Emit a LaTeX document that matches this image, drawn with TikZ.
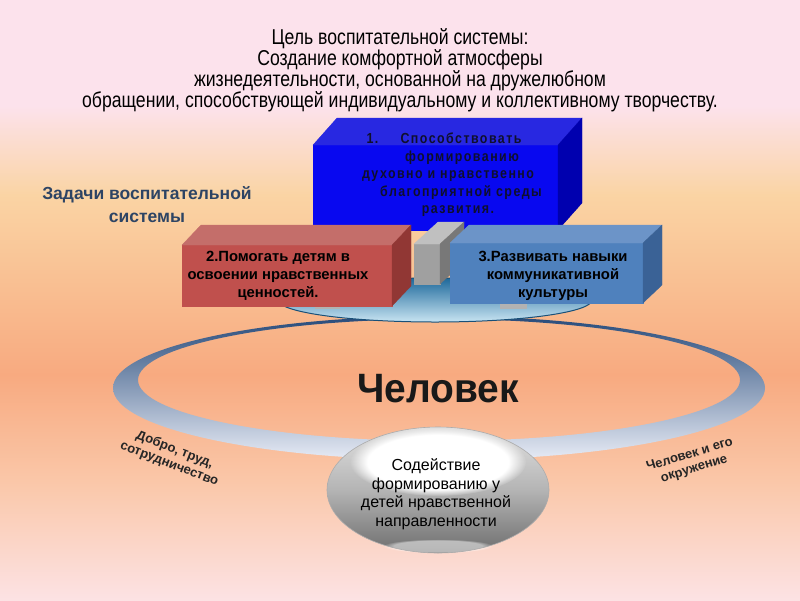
\documentclass[tikz,border=0pt]{standalone}
\usepackage{fontspec}
\setmainfont{Liberation Sans}
\newfontfamily\narrowfont[FakeStretch=0.82]{Liberation Sans}
\newfontfamily\semifont[FakeStretch=0.95]{Liberation Sans}
\newfontfamily\spacedfont[FakeStretch=0.85,LetterSpace=10]{Liberation Sans}
\usetikzlibrary{shapes.geometric,fadings}
\definecolor{bgpink}{RGB}{252,226,236}
\definecolor{bgpeach}{RGB}{250,212,164}
\definecolor{bgsalmon}{RGB}{248,170,128}
\definecolor{bglow}{RGB}{250,200,170}
\definecolor{bgbottom}{RGB}{252,226,228}
\definecolor{ringdark}{RGB}{40,75,122}
\definecolor{ringlight}{RGB}{232,236,246}
\definecolor{platdark}{RGB}{30,105,155}
\definecolor{platlight}{RGB}{200,228,242}
\definecolor{platedge}{RGB}{25,80,120}
\definecolor{bonefront}{RGB}{8,8,240}
\definecolor{bonetop}{RGB}{40,40,225}
\definecolor{boneside}{RGB}{0,0,175}
\definecolor{redfront}{RGB}{192,80,77}
\definecolor{redtop}{RGB}{196,110,106}
\definecolor{redside}{RGB}{145,55,52}
\definecolor{bthfront}{RGB}{79,129,189}
\definecolor{bthtop}{RGB}{108,148,200}
\definecolor{bthside}{RGB}{58,98,150}
\definecolor{grfront}{RGB}{160,160,160}
\definecolor{grtop}{RGB}{192,192,192}
\definecolor{grside}{RGB}{120,120,120}
\definecolor{tasktext}{RGB}{45,68,100}
\definecolor{navytext}{RGB}{15,15,45}
\definecolor{sphtop}{RGB}{225,225,225}
\definecolor{sphmid}{RGB}{180,180,180}
\definecolor{sphbot}{RGB}{110,110,110}
\newcommand{\mycuboid}[9]{%
  \fill[#7,draw=#7,line width=0.3pt] (#1,#2) rectangle (#3,#4);
  \fill[#8,draw=#8,line width=0.3pt] (#1,#2) -- ++(#5,-#6) -- (#3+#5,#2-#6) -- (#3,#2) -- cycle;
  \fill[#9,draw=#9,line width=0.3pt] (#3,#2) -- (#3+#5,#2-#6) -- (#3+#5,#4-#6) -- (#3,#4) -- cycle;
}
\begin{document}
\begin{tikzpicture}[x=1pt,y=-1pt,
  titletext/.style={font=\narrowfont\fontsize{21.5}{21}\selectfont, align=center, text=black},
  tasklabel/.style={font=\bfseries\fontsize{17.5}{23}\selectfont, align=center, text=tasktext},
  boxtext/.style={font=\bfseries\fontsize{14.8}{17.8}\selectfont, align=center, text=black},
  onetext/.style={font=\bfseries\spacedfont\fontsize{14.6}{17.5}\selectfont, text=navytext, anchor=base},
  sidetext/.style={font=\bfseries\fontsize{13}{15}\selectfont, align=center, text=black!85},
  spheretext/.style={font=\fontsize{16}{18.5}\selectfont, align=center, text=black}]
\useasboundingbox (0,0) rectangle (800,600);
% background
\fill[bgpink] (0,0) rectangle (800,106);
\shade[top color=bgpink, bottom color=bgpeach] (0,105.5) rectangle (800,195);
\shade[top color=bgpeach, bottom color=bgsalmon] (0,194.5) rectangle (800,375);
\shade[top color=bgsalmon, bottom color=bglow] (0,374.5) rectangle (800,485);
\shade[top color=bglow, bottom color=bgbottom] (0,484.5) rectangle (800,600);
% title
\node[titletext] (title) at (400,70) {Цель воспитательной системы:\\Создание комфортной  атмосферы\\жизнедеятельности, основанной на дружелюбном\\обращении, способствующей индивидуальному и коллективному творчеству.};
% tasks label
\node[tasklabel] (tasks) at (147,205) {Задачи воспитательной\\системы};
% ring
\shade[top color=ringdark, bottom color=ringlight, even odd rule]
  (439,388) ellipse [x radius=326pt, y radius=72pt]
  (439,380) ellipse [x radius=301pt, y radius=61pt];
% platform
\shade[top color=platdark, bottom color=platlight, draw=platedge, line width=1pt]
  (435,300) ellipse [x radius=157pt, y radius=22pt];
\fill[gray!60] (315,303) rectangle (340,309);
\fill[gray!60] (500,302) rectangle (527,309);
% box 1
\mycuboid{313}{145}{558}{230}{24}{27}{bonefront}{bonetop}{boneside}
% gray box
\mycuboid{414}{244}{440}{284}{24}{22}{grfront}{grtop}{grside}
% red box
\mycuboid{182}{245}{392}{306}{19}{20}{redfront}{redtop}{redside}
% blue box 3
\mycuboid{450}{243}{643}{303}{19}{18}{bthfront}{bthtop}{bthside}
% box 1 text
\node[onetext, anchor=base west] (one1a) at (363,143) {1.};
\node[onetext] (one1) at (461,143) {Способствовать};
\node[onetext] (one2) at (462,161) {формированию};
\node[onetext] (one3) at (448,178) {духовно и нравственно};
\node[onetext] (one4) at (461,196) {благоприятной среды};
\node[onetext] (one5) at (458,213) {развития.};
% box 2 & 3 text
\node[boxtext] (two) at (278,276) {2.Помогать  детям в\\освоении нравственных\\ценностей.};
\node[boxtext] (three) at (553,276) {3.Развивать навыки\\коммуникативной\\культуры};
% center word
\node[font=\bfseries\semifont\fontsize{41}{41}\selectfont, text=black!90] (man) at (438,389) {Человек};
% sphere
\shade[top color=sphtop, bottom color=sphbot, middle color=sphmid] (438,490) ellipse [x radius=111pt, y radius=63pt];
\fill[white, path fading=circle with fuzzy edge 20 percent] (438,462) ellipse [x radius=88pt, y radius=34pt];
\fill[white, opacity=0.5, path fading=circle with fuzzy edge 20 percent] (438,546) ellipse [x radius=55pt, y radius=7pt];
\draw[gray!65, line width=0.6pt] (438,490) ellipse [x radius=111pt, y radius=63pt];
\node[spheretext] (sphere) at (436,494) {Содействие\\формированию у\\детей нравственной\\направленности};
% side labels
\node[sidetext, rotate=-21] (left) at (172,457) {Добро, труд,\\сотрудничество};
\node[sidetext, rotate=17] (right) at (692,462) {Человек и его\\окружение};
\end{tikzpicture}
\end{document}
